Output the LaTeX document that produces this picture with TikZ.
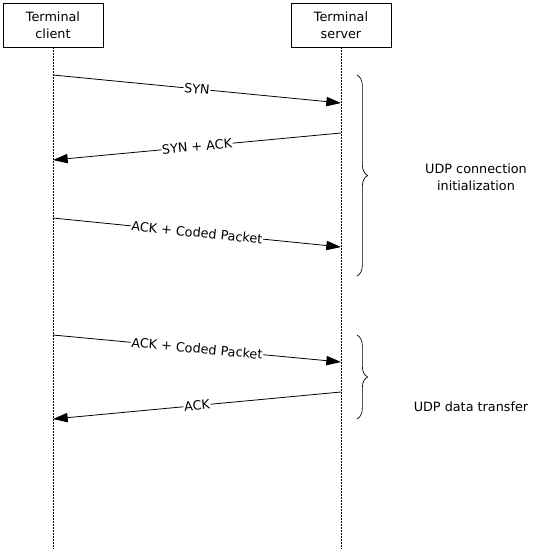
\documentclass[tikz,border=0pt]{standalone}
\usepackage{fontspec}
\setmainfont{DejaVu Sans}
\usetikzlibrary{arrows.meta,decorations.pathreplacing}

\begin{document}
\begin{tikzpicture}[x=0.75pt,y=-0.75pt,
		font=\fontsize{9.6}{12.5}\selectfont,
		actor/.style={draw,line width=0.6pt,minimum width=75pt,minimum height=33pt,align=center,inner sep=1pt},
		lifeline/.style={line width=0.6pt,dash pattern=on 1.5pt off 0.75pt},
		msg/.style={line width=0.6pt,-{Triangle[length=11pt,width=7pt]}},
		msg_label/.style={sloped,fill=white,inner sep=0.5pt,midway},
		phase/.style={line width=0.5pt,decorate,decoration={brace,amplitude=8pt}},
		phase_label/.style={align=center}]
		
		\useasboundingbox (0,0) rectangle (548,554);
		
		\node[actor] (client) at (53,25) {Terminal\\client};
		\node[actor] (server) at (341,25) {Terminal\\server};
		
		\coordinate (client_end) at (53,549);
		\coordinate (server_end) at (341,549);
		
		\draw[lifeline] (client) -- (client_end);
		\draw[lifeline] (server) -- (server_end);
		
		\coordinate (c1) at (53,75);
		\coordinate (s1) at (341,103);
		\coordinate (s2) at (341,133);
		\coordinate (c2) at (53,160);
		\coordinate (c3) at (53,218);
		\coordinate (s3) at (341,247);
		\coordinate (c4) at (53,335);
		\coordinate (s4) at (341,362);
		\coordinate (s5) at (341,392);
		\coordinate (c5) at (53,419);
		
		\draw[msg] (c1) -- node[msg_label] {SYN} (s1);
		\draw[msg] (s2) -- node[msg_label] {SYN + ACK} (c2);
		\draw[msg] (c3) -- node[msg_label] {ACK + Coded Packet} (s3);
		\draw[msg] (c4) -- node[msg_label] {ACK + Coded Packet} (s4);
		\draw[msg] (s5) -- node[msg_label] {ACK} (c5);
		
		\coordinate (init_top) at (357,75);
		\coordinate (init_bottom) at (357,276);
		\coordinate (data_top) at (357,335);
		\coordinate (data_bottom) at (357,419);
		
		\draw[phase] (init_top) -- (init_bottom);
		\draw[phase] (data_top) -- (data_bottom);
		
		\node[phase_label] (init) at (476,177) {UDP connection\\initialization};
		\node[phase_label] (transfer) at (471,407) {UDP data transfer};
		\end{tikzpicture}
\end{document}
